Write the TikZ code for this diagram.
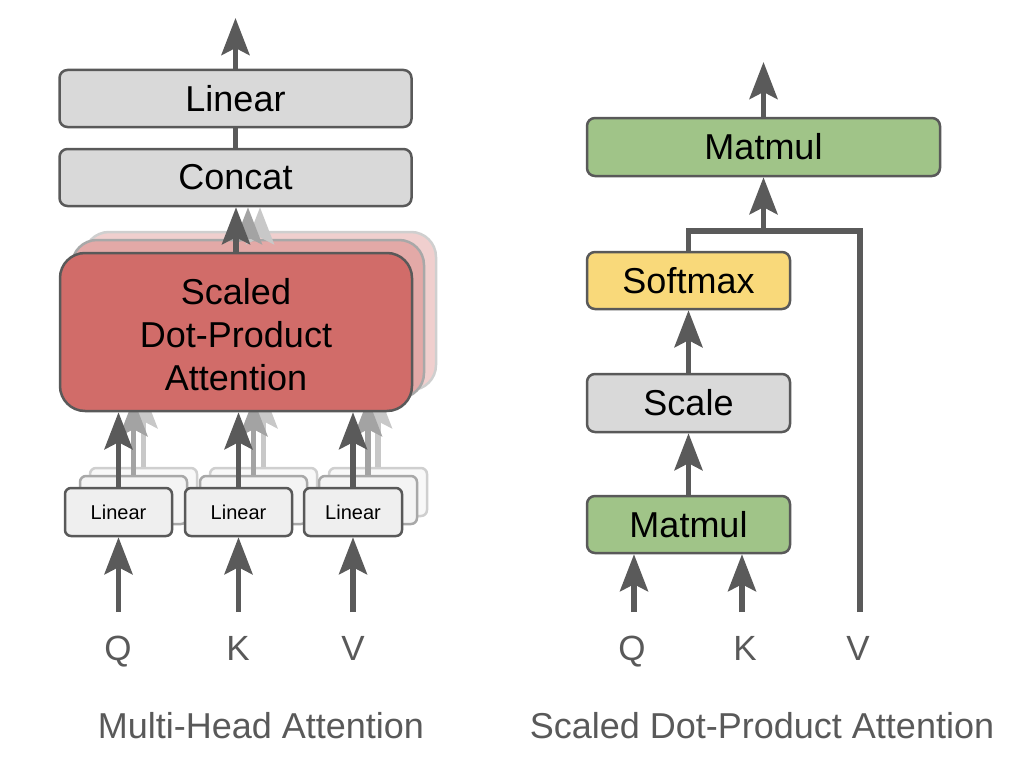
\documentclass[tikz,border=0pt]{standalone}
\usepackage{fontspec}
\setmainfont{Liberation Sans}
\usetikzlibrary{arrows.meta}
\pgfdeclarelayer{bg}
\pgfsetlayers{bg,main}
\definecolor{bord}{HTML}{595959}
\definecolor{agray}{HTML}{5A5A5A}
\definecolor{gfill}{HTML}{D9D9D9}
\definecolor{lfill}{HTML}{EFEFEF}
\definecolor{redf}{HTML}{D16C69}
\definecolor{redg1}{HTML}{E3A9A7}
\definecolor{redg2}{HTML}{F0CFCE}
\definecolor{gb1}{HTML}{A8A8A8}
\definecolor{gb2}{HTML}{CFCFCF}
\definecolor{lg1}{HTML}{F4F4F4}
\definecolor{lg2}{HTML}{F8F8F8}
\definecolor{greenf}{HTML}{A0C488}
\definecolor{yellowf}{HTML}{F9D97A}
\definecolor{txtgray}{HTML}{595959}
\definecolor{ga1}{HTML}{A3A3A3}
\definecolor{ga2}{HTML}{C8C8C8}
\begin{document}
\begin{tikzpicture}[x=1pt,y=-1pt,
  box/.style={draw=bord, line width=2.5pt, rounded corners=8pt, inner sep=0pt, align=center,
    font=\fontsize{36}{43}\selectfont},
  wide/.style={minimum width=352pt, minimum height=57pt},
  narrow/.style={minimum width=203pt, minimum height=57pt},
  attnbox/.style={box, rounded corners=25pt, minimum width=352pt, minimum height=158pt},
  smallbox/.style={box, rounded corners=6pt, minimum height=48pt, font=\fontsize{20}{24}\selectfont},
  arr/.style={draw=agray, line width=5.5pt, -{Stealth[length=37pt,width=28pt,inset=7pt]}},
  garr1/.style={arr, draw=ga1},
  garr2/.style={arr, draw=ga2},
  ln/.style={draw=agray, line width=5.5pt},
  lab/.style={text=txtgray, anchor=base, inner sep=0pt, font=\fontsize{35}{40}\selectfont},
  captext/.style={text=txtgray, anchor=base, inner sep=0pt, font=\fontsize{36}{40}\selectfont},
  boxtext/.style={align=center, inner sep=0pt, font=\fontsize{36}{43}\selectfont}
]
\useasboundingbox (0,0) rectangle (1028,776);

% ---------- Multi-Head Attention ----------
\node[box, wide, fill=gfill] (lintop) at (235.5,98.5) {Linear};
\node[box, wide, fill=gfill] (concat) at (235.5,177.5) {Concat};
\node[attnbox, fill=redf] (attn) at (236,332) {};
\node[boxtext] (attntext) at (236,335) {Scaled\\Dot-Product\\Attention};
\node[smallbox, fill=lfill, minimum width=107pt] (l1) at (118.5,512) {Linear};
\node[smallbox, fill=lfill, minimum width=107pt] (l2) at (238.5,512) {Linear};
\node[smallbox, fill=lfill, minimum width=98pt] (l3) at (353,512) {Linear};

\coordinate (out1) at (235.5,18);
\coordinate (q1) at (118.5,612);
\coordinate (k1) at (238.5,612);
\coordinate (v1) at (353,612);

\draw[arr] (lintop.north) -- (out1);
\draw[ln] (concat.north) -- (lintop.south);
\draw[arr] (attn.north) -- (attn.north |- concat.south);
\foreach \n in {l1,l2,l3} {
  \draw[arr] (\n.north) -- (\n.north |- attn.south);
}
\draw[arr] (q1) -- (l1.south);
\draw[arr] (k1) -- (l2.south);
\draw[arr] (v1) -- (l3.south);

\node[lab] (tq1) at (118,660) {Q};
\node[lab] (tk1) at (238,660) {K};
\node[lab] (tv1) at (353,660) {V};
\node[captext] (cap1) at (261,738) {Multi-Head Attention};

\begin{pgfonlayer}{bg}
  \node[attnbox, draw=gb2, fill=redg2] (ag2) at (260,311) {};
  \node[attnbox, draw=gb1, fill=redg1] (ag1) at (248,319) {};
  \node[smallbox, draw=gb2, fill=lg2, minimum width=107pt] (l1b) at (143.5,492) {};
  \node[smallbox, draw=gb2, fill=lg2, minimum width=107pt] (l2b) at (263.5,492) {};
  \node[smallbox, draw=gb2, fill=lg2, minimum width=98pt] (l3b) at (378,492) {};
  \node[smallbox, draw=gb1, fill=lg1, minimum width=107pt] (l1a) at (133.5,500) {};
  \node[smallbox, draw=gb1, fill=lg1, minimum width=107pt] (l2a) at (253.5,500) {};
  \node[smallbox, draw=gb1, fill=lg1, minimum width=98pt] (l3a) at (368,500) {};
  \foreach \n in {l1b,l2b,l3b} {
    \draw[garr2] (\n.north) -- (\n.north |- ag2.south);
  }
  \foreach \n in {l1a,l2a,l3a} {
    \draw[garr1] (\n.north) -- (\n.north |- ag1.south);
  }
  \draw[garr2] (ag2.north) -- (ag2.north |- concat.south);
  \draw[garr1] (ag1.north) -- (ag1.north |- concat.south);
\end{pgfonlayer}

% ---------- Scaled Dot-Product Attention ----------
\node[box, minimum width=353pt, minimum height=58pt, fill=greenf] (m2) at (763.5,147) {Matmul};
\node[box, narrow, fill=yellowf] (soft) at (688.5,280.5) {Softmax};
\node[box, narrow, minimum height=58pt, fill=gfill] (scale) at (688.5,403) {Scale};
\node[box, narrow, fill=greenf] (m1) at (688.5,524.5) {Matmul};

\coordinate (out2) at (763.5,62);
\coordinate (jn) at (763.5,231);
\coordinate (vtop) at (860,231);
\coordinate (v2) at (860,612);
\coordinate (q2) at (634,612);
\coordinate (k2) at (742,612);

\draw[arr] (m2.north) -- (out2);
\draw[ln] (v2) -- (vtop) -| (soft.north);
\draw[arr] (jn) -- (m2.south);
\draw[arr] (scale.north) -- (soft.south);
\draw[arr] (m1.north) -- (scale.south);
\draw[arr] (q2) -- (q2 |- m1.south);
\draw[arr] (k2) -- (k2 |- m1.south);

\node[lab] (tq2) at (632,660) {Q};
\node[lab] (tk2) at (745,660) {K};
\node[lab] (tv2) at (858,660) {V};
\node[captext] (cap2) at (762,738) {Scaled Dot-Product Attention};
\end{tikzpicture}
\end{document}
